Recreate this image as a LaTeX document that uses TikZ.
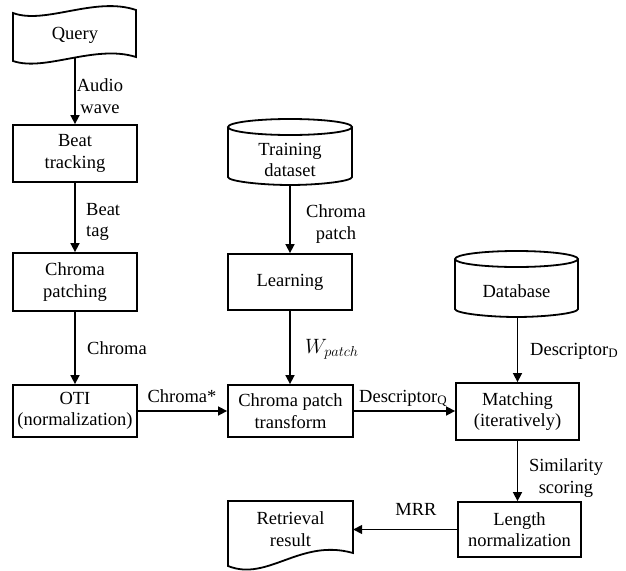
\documentclass[tikz,border=0pt]{standalone}
\usepackage{fontspec}
\setmainfont{Liberation Serif}
\usetikzlibrary{arrows.meta}
\begin{document}
\begin{tikzpicture}[x=1pt,y=-1pt,
  txt/.style={font=\fontsize{18.5}{21.5}\selectfont, align=center, inner sep=0pt},
  box/.style={txt, draw, line width=1.8pt, minimum width=124pt},
  ghost/.style={txt, minimum width=124pt},
  shp/.style={line width=1.8pt},
  arr/.style={line width=1.6pt, -{Triangle[length=9pt,width=9pt]}},
  lbl/.style={txt}]
\useasboundingbox (0,0) rectangle (626,570);

% Query flag
\draw[shp] (13,13) .. controls (45,25) and (95,-4) .. (136,10)
  -- (136,57) .. controls (95,44) and (45,72) .. (13,61) -- cycle;
\node[ghost, minimum height=44pt] (query) at (75,35) {Query};

\node[box, minimum height=57pt] (beat) at (75,153.5) {Beat\\tracking};
\node[box, minimum height=58pt] (cpatch) at (75,282) {Chroma\\patching};
\node[box, minimum height=52pt] (oti) at (75,411) {OTI\\(normalization)};

% Training dataset cylinder
\draw[shp] (290,127) ellipse [x radius=62, y radius=8];
\draw[shp] (228,127) -- (228,177) .. controls (228,181.4) and (262.2,185) .. (290,185)
  .. controls (317.8,185) and (352,181.4) .. (352,177) -- (352,127);
\node[ghost, minimum height=50pt] (train) at (290,160) {Training\\dataset};

\node[box, minimum height=56pt] (learn) at (290,282) {Learning};
\node[box, minimum width=125pt, minimum height=52pt] (cpt) at (290.5,411) {Chroma patch\\transform};

% Database cylinder
\draw[shp] (516.5,259) ellipse [x radius=61.5, y radius=8];
\draw[shp] (455,259) -- (455,309) .. controls (455,313.4) and (489,317) .. (516.5,317)
  .. controls (544,317) and (578,313.4) .. (578,309) -- (578,259);
\node[ghost, minimum height=50pt] (db) at (516.5,291) {Database};

\node[box, minimum width=123pt, minimum height=57pt] (match) at (517.5,411.5) {Matching\\(iteratively)};
\node[box, minimum width=123pt, minimum height=55pt] (lennorm) at (519.5,529.5) {Length\\normalization};

% Retrieval result document
\draw[shp] (228,501) -- (353,501) -- (353,553)
  .. controls (300,538) and (268,582) .. (228,566) -- cycle;
\node[ghost, minimum width=125pt, minimum height=56pt] (retr) at (290.5,529) {Retrieval\\result};

% connectors
\draw[arr] (query.south) -- (beat.north);
\draw[arr] (beat.south) -- (cpatch.north);
\draw[arr] (cpatch.south) -- (oti.north);
\draw[arr] (oti.east) -- (cpt.west);
\draw[arr] (train.south) -- (learn.north);
\draw[arr] (learn.south) -- (learn.south |- cpt.north);
\draw[arr] (cpt.east) -- (cpt.east -| match.west);
\draw[arr] (match.north |- db.south) -- (match.north);
\draw[arr] (match.south) -- (match.south |- lennorm.north);
\draw[arr] (lennorm.west) -- (lennorm.west -| retr.east);

% labels
\node[lbl] at (100,96) {Audio\\wave};
\node[lbl, align=left, anchor=west] at (86,222) {Beat\\tag};
\node[lbl, anchor=base west] at (87,354) {Chroma};
\node[lbl, anchor=base] at (182,402) {Chroma*};
\node[lbl] at (336,224) {Chroma\\patch};
\node[lbl, anchor=base west, font=\fontsize{21}{24}\selectfont] at (305,353) {$W_{patch}$};
\node[lbl, anchor=base west] at (359,402) {Descriptor\textsubscript{Q}};
\node[lbl, anchor=base west] at (530,355) {Descriptor\textsubscript{D}};
\node[lbl] at (566,478) {Similarity\\scoring};
\node[lbl, anchor=base] at (416,515) {MRR};
\end{tikzpicture}
\end{document}
